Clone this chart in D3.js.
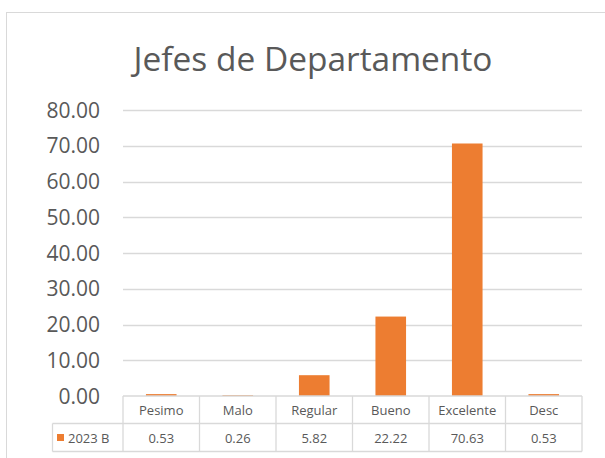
<!DOCTYPE html>
<html>
<head>
<meta charset="utf-8">
<script src="https://cdn.jsdelivr.net/npm/d3@7"></script>
<style>
  body { margin: 0; background: #fff; }
  text { font-family: "Open Sans", sans-serif; fill: #595959; }
</style>
</head>
<body>
<svg id="chart" width="605" height="458"></svg>
<script>
const categories = ["Pesimo", "Malo", "Regular", "Bueno", "Excelente", "Desc"];
const values = [0.53, 0.26, 5.82, 22.22, 70.63, 0.53];
const seriesName = "2023 B";
const yTicks = [0, 10, 20, 30, 40, 50, 60, 70, 80];
const title = "Jefes de Departamento";

const svg = d3.select("#chart"),
  plot = {left: 123, right: 582, top: 110, bottom: 396},
  color = "#ED7D31",
  lineColor = "#d9d9d9";

// chart frame (runs off the right and bottom of the picture)
svg.append("rect")
  .attr("x", 6.5).attr("y", 12.5)
  .attr("width", 700).attr("height", 500)
  .attr("fill", "none").attr("stroke", lineColor);

const x = d3.scaleBand().domain(categories).range([plot.left, plot.right])
  .paddingInner(0.6).paddingOuter(0.3);
const col = d3.scaleBand().domain(categories).range([plot.left, plot.right]);
const y = d3.scaleLinear().domain([0, 80]).range([plot.bottom, plot.top]);

// title, fitted to the reference width
const t = svg.append("text")
  .attr("x", 313).attr("y", 71)
  .attr("text-anchor", "middle")
  .style("font-size", "100px")
  .text(title);
const tw = t.node().getComputedTextLength();
t.style("font-size", (100 * 359 / tw) + "px");

// gridlines
svg.append("g").selectAll("line")
  .data(yTicks.filter(d => d > 0))
  .join("line")
  .attr("x1", plot.left).attr("x2", plot.right)
  .attr("y1", d => Math.round(y(d)) + 0.5).attr("y2", d => Math.round(y(d)) + 0.5)
  .attr("stroke", lineColor).attr("stroke-width", 1.5);

// y tick labels
svg.append("g").selectAll("text")
  .data(yTicks)
  .join("text")
  .attr("x", 100).attr("y", d => y(d))
  .attr("dy", "0.36em")
  .attr("text-anchor", "end")
  .style("font-size", "21px")
  .text(d3.format(".2f"));

// bars
svg.append("g").selectAll("rect")
  .data(values)
  .join("rect")
  .attr("x", (d, i) => x(categories[i]))
  .attr("width", x.bandwidth())
  .attr("y", d => y(d))
  .attr("height", d => y(0) - y(d))
  .attr("fill", color);

// data table
const rowTop = plot.bottom, rowMid = 423.5, rowBot = 451.5, legLeft = 52.5;
const tbl = svg.append("g").attr("stroke", lineColor).attr("stroke-width", 1.3);
tbl.append("line").attr("x1", plot.left).attr("x2", plot.right).attr("y1", rowTop).attr("y2", rowTop);
tbl.append("line").attr("x1", legLeft).attr("x2", plot.right).attr("y1", rowMid).attr("y2", rowMid);
tbl.append("line").attr("x1", legLeft).attr("x2", plot.right).attr("y1", rowBot).attr("y2", rowBot);
tbl.append("line").attr("x1", legLeft).attr("x2", legLeft).attr("y1", rowMid).attr("y2", rowBot);
tbl.selectAll("line.col")
  .data(categories.map(c => col(c)).concat([plot.right]))
  .join("line").attr("class", "col")
  .attr("x1", d => d).attr("x2", d => d)
  .attr("y1", rowTop).attr("y2", rowBot);

svg.append("g").selectAll("text")
  .data(categories)
  .join("text")
  .attr("x", d => col(d) + col.bandwidth() / 2)
  .attr("y", (rowTop + rowMid) / 2 + 5)
  .attr("text-anchor", "middle")
  .style("font-size", "13px")
  .text(d => d);

svg.append("g").selectAll("text")
  .data(values)
  .join("text")
  .attr("x", (d, i) => col(categories[i]) + col.bandwidth() / 2)
  .attr("y", (rowMid + rowBot) / 2 + 5)
  .attr("text-anchor", "middle")
  .style("font-size", "13px")
  .text(d3.format(".2f"));

svg.append("rect")
  .attr("x", 57).attr("y", 434)
  .attr("width", 7).attr("height", 7)
  .attr("fill", color);
svg.append("text")
  .attr("x", 68).attr("y", (rowMid + rowBot) / 2 + 5)
  .style("font-size", "13px")
  .text(seriesName);
</script>
</body>
</html>
